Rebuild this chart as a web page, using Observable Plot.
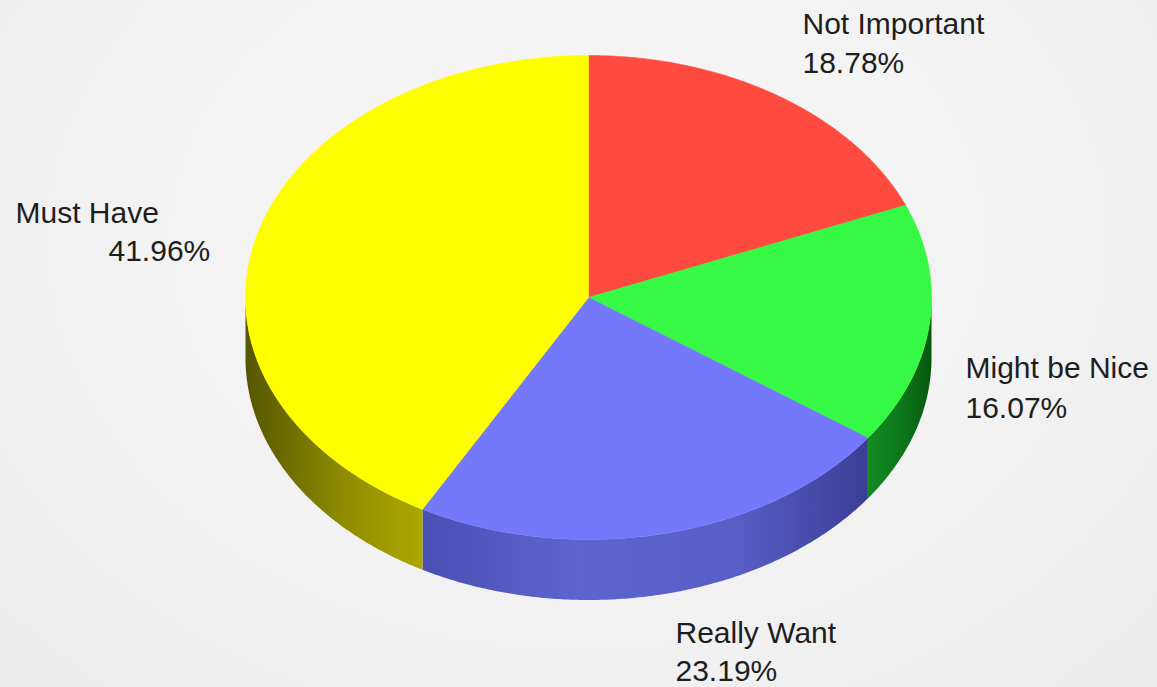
<!DOCTYPE html>
<html><head><meta charset="utf-8">
<script src="https://cdn.jsdelivr.net/npm/d3@7"></script>
<script src="https://cdn.jsdelivr.net/npm/@observablehq/plot@0.6"></script>
<style>
html,body{margin:0;padding:0;}
body{width:1157px;height:687px;overflow:hidden;background:radial-gradient(ellipse at 50% 35%, #f7f7f7 0%, #f2f2f2 55%, #ececec 100%);}
#chart svg{display:block;}
</style></head><body><div id="chart"></div>
<script>
// ---- data ----
const categories = ["Not Important", "Might be Nice", "Really Want", "Must Have"];
const values = [18.78, 16.07, 23.19, 41.96];

// ---- styling / layout (kept separate from data) ----
const topColors = ["#ff4a3f", "#35f944", "#7479fc", "#fefe00"];
const sideGradients = [
  [["0", "#b8332a"], ["1", "#8a2018"]],
  [["0", "#138c22"], ["0.6", "#0d7419"], ["1", "#07560e"]],
  [["0", "#4a4fb4"], ["0.35", "#5e64cf"], ["0.7", "#585ec6"], ["1", "#3b3e96"]],
  [["0", "#555500"], ["0.55", "#8e8c00"], ["1", "#aba800"]]
];
const depth = 0.25; // thickness in y-units of the tilted disc
const labelLayout = [
  {name: [802, 33], pct: [802, 72]},
  {name: [965, 377], pct: [965, 417]},
  {name: [675, 642], pct: [675, 680]},
  {name: [15, 222], pct: [108, 260]}
];

const deg = Math.PI / 180;
let cum = 0;
const slices = categories.map((c, i) => {
  const a = cum / 100 * 360;
  cum += values[i];
  return {c, v: values[i], a, b: cum / 100 * 360, i};
});

function arcPts(a, b, off = 0) {
  const n = Math.max(2, Math.ceil((b - a) / 0.5));
  const pts = [];
  for (let k = 0; k <= n; k++) {
    const t = (a + (b - a) * k / n) * deg;
    pts.push({x: Math.sin(t), y: -Math.cos(t) + off});
  }
  return pts;
}

const defsMark = () => {
  const defs = d3.create("svg:defs");
  sideGradients.forEach((stops, i) => {
    const g = defs.append("linearGradient").attr("id", "side" + i)
      .attr("x1", "0").attr("x2", "1").attr("y1", "0").attr("y2", "0");
    stops.forEach(([o, c]) => g.append("stop").attr("offset", o).attr("stop-color", c));
  });
  return defs.node();
};

const marks = [defsMark];

// sides (front half only: angles 90..270)
slices.forEach(s => {
  const a = Math.max(s.a, 90), b = Math.min(s.b, 270);
  if (b > a) {
    const pts = arcPts(a, b, 0).concat(arcPts(a, b, depth).reverse());
    marks.push(Plot.line(pts, {x: "x", y: "y", fill: `url(#side${s.i})`, stroke: "none", curve: "linear"}));
  }
});

// tops
slices.forEach(s => {
  const pts = [{x: 0, y: 0}, ...arcPts(s.a, s.b, 0), {x: 0, y: 0}];
  marks.push(Plot.line(pts, {x: "x", y: "y", fill: topColors[s.i], stroke: topColors[s.i], strokeWidth: 0.6, curve: "linear"}));
});

// labels
const font = "'Liberation Sans', Arial, sans-serif";
slices.forEach(s => {
  const L = labelLayout[s.i];
  marks.push(Plot.text([s], {frameAnchor: "top-left", dx: L.name[0], dy: L.name[1], text: d => d.c,
    textAnchor: "start", lineAnchor: "bottom", fontSize: 30, fontFamily: font, fill: "#1e1e1e"}));
  marks.push(Plot.text([s], {frameAnchor: "top-left", dx: L.pct[0], dy: L.pct[1], text: d => d.v.toFixed(2) + "%",
    textAnchor: "start", lineAnchor: "bottom", fontSize: 30, fontFamily: font, fill: "#1e1e1e"}));
});

const chart = Plot.plot({
  width: 1157,
  height: 687,
  margin: 0,
  x: {domain: [-1, 1], range: [245, 931], axis: null},
  y: {domain: [-1, 1], range: [55, 539], axis: null},
  style: {background: "transparent", overflow: "visible"},
  marks
});
document.getElementById("chart").appendChild(chart);
</script>
</body></html>
